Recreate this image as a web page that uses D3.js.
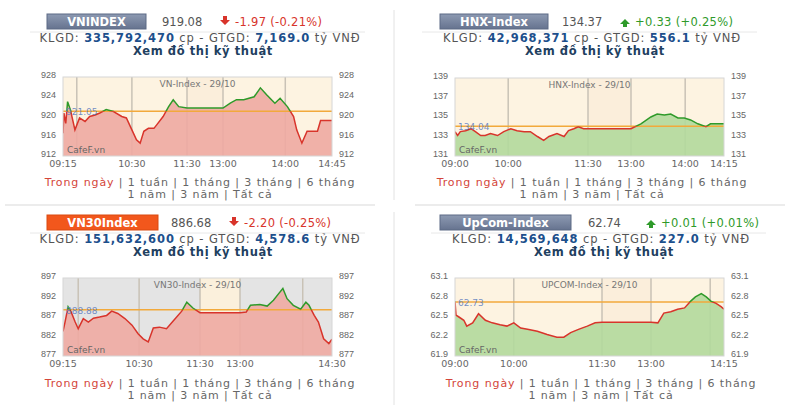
<!DOCTYPE html>
<html><head><meta charset="utf-8">
<script src="https://cdn.jsdelivr.net/npm/d3@7"></script>
<style>body{margin:0;background:#fff}svg{font-family:"DejaVu Sans",Verdana,sans-serif}</style>
</head><body>
<svg id="c" width="787" height="409"></svg>
<script>
// intraday series, [time, value]
const vnData = [["9:15",916.6],["9:16",920.7],["9:18",918.6],["9:20",923.0],["9:23",921.4],["9:28",917.3],["9:33",919.7],["9:39",919.0],["9:44",920.0],["9:50",920.3],["9:55",920.7],["10:02",921.4],["10:10",921.0],["10:19",920.0],["10:24",919.7],["10:30",917.3],["10:35",915.3],["10:39",914.6],["10:43",917.0],["10:48",917.6],["10:54",917.6],["10:57",918.3],["11:04",920.0],["11:10",922.0],["11:15",923.4],["11:21",922.0],["11:30",921.7],["13:00",921.7],["13:07",922.7],["13:13",923.4],["13:20",923.4],["13:30",924.0],["13:36",925.8],["13:42",924.4],["13:50",922.7],["13:55",923.7],["14:02",922.0],["14:08",920.0],["14:11",917.3],["14:16",914.6],["14:21",917.0],["14:31",917.0],["14:34",919.2],["14:45",919.2]];
const hnxData = [["9:00",133.5],["9:03",133.1],["9:06",133.5],["9:12",133.6],["9:18",133.8],["9:23",133.5],["9:29",133.1],["9:34",133.1],["9:40",133.3],["9:48",133.1],["9:55",133.5],["10:03",133.8],["10:10",133.6],["10:18",133.5],["10:25",133.5],["10:33",133.0],["10:40",132.6],["10:46",133.0],["10:55",133.3],["11:03",133.0],["11:08",133.6],["11:14",133.8],["11:19",134.0],["11:25",133.8],["11:30",133.8],["13:00",133.8],["13:11",134.3],["13:22",135.0],["13:29",135.3],["13:37",135.2],["13:44",135.3],["13:52",134.9],["13:59",134.9],["14:06",134.7],["14:14",134.3],["14:23",134.0],["14:28",134.3],["14:43",134.3]];
const vn30Data = [["9:15",883.3],["9:17",885.7],["9:20",889.6],["9:23",888.3],["9:27",885.7],["9:30",884.0],["9:35",886.6],["9:40",885.7],["9:45",886.7],["9:51",887.0],["9:58",887.4],["10:03",888.5],["10:09",887.9],["10:16",886.6],["10:23",884.9],["10:29",882.7],["10:34",881.4],["10:39",880.6],["10:44",884.2],["10:50",884.4],["10:57",884.0],["11:04",886.1],["11:12",888.5],["11:17",890.8],["11:23",889.3],["11:30",888.1],["13:00",888.1],["13:06",888.3],["13:10",890.0],["13:19",890.2],["13:26",889.8],["13:32",891.3],["13:37",893.0],["13:41",894.3],["13:45",891.7],["13:51",890.0],["13:58",889.0],["14:03",890.8],["14:06",890.0],["14:11",887.4],["14:15",885.7],["14:20",881.4],["14:25",880.2],["14:28",881.3]];
const upcomData = [["9:00",62.74],["9:01",62.53],["9:04",62.50],["9:09",62.45],["9:12",62.36],["9:18",62.41],["9:24",62.55],["9:31",62.45],["9:38",62.41],["9:46",62.38],["9:53",62.36],["10:00",62.41],["10:07",62.33],["10:14",62.31],["10:24",62.28],["10:34",62.23],["10:44",62.19],["10:51",62.19],["10:58",62.26],["11:06",62.31],["11:15",62.36],["11:23",62.41],["11:30",62.42],["13:00",62.42],["13:07",62.41],["13:13",62.56],["13:20",62.58],["13:27",62.62],["13:34",62.64],["13:40",62.74],["13:45",62.81],["13:51",62.86],["13:56",62.81],["14:01",62.74],["14:06",62.71],["14:11",62.66],["14:14",62.62]];

const vnTicks = [912,916,920,924,928];
const hnxTicks = [131,133,135,137,139];
const vn30Ticks = [877,882,887,892,897];
const upcomTicks = [61.9,62.2,62.5,62.8,63.1];

const vnXLabels = ["09:15","10:30","11:30","13:00","14:00","14:45"];
const hnxXLabels = ["09:00","10:00","11:30","13:00","14:00","14:15"];
const vn30XLabels = ["09:15","10:30","11:30","13:00","14:30"];
const upcomXLabels = ["09:00","10:00","11:30","13:00","14:15"];

const vnGrid = ["9:30","10:30","11:30","13:00","14:00"];
const hnxGrid = ["10:00","11:30","13:00","14:00"];
const vn30Grid = ["9:30","10:30","11:30","13:00","14:00"];
const upcomGrid = ["10:00","11:30","13:00","14:00"];

const panels = [
  {name:"VNINDEX", title:"VN-Index - 29/10", data:vnData, ticks:vnTicks, xl:vnXLabels, grid:vnGrid, ref:921.05, refLabel:"921.05",
   price:"919.08", chg:"-1.97 (-0.21%)", up:false, klgd:"335,792,470", gtgd:"7,169.0",
   ox:0, oy:0, btn:[47,99], val:162, cx:200, plot:[63,332,77,156], xr:[63,187,223,332], bg:"#fdf3e1", lunch:"#fbeedb"},
  {name:"HNX-Index", title:"HNX-Index - 29/10", data:hnxData, ticks:hnxTicks, xl:hnxXLabels, grid:hnxGrid, ref:134.04, refLabel:"134.04",
   price:"134.37", chg:"+0.33 (+0.25%)", up:true, klgd:"42,968,371", gtgd:"556.1",
   ox:394, oy:0, btn:[46,108], val:168, cx:198, plot:[61,330,78,156], xr:[61,194,237,330], bg:"#fdf3e1", lunch:"#fbeedb"},
  {name:"VN30Index", title:"VN30-Index - 29/10", data:vn30Data, ticks:vn30Ticks, xl:vn30XLabels, grid:vn30Grid, ref:888.88, refLabel:"888.88",
   price:"886.68", chg:"-2.20 (-0.25%)", up:false, klgd:"151,632,600", gtgd:"4,578.6",
   ox:0, oy:201, btn:[47,111], val:171, cx:200, plot:[63,332,77,155], xr:[63,200,240,332], bg:"#e4e4e4", lunch:"#fbf0dc"},
  {name:"UpCom-Index", title:"UPCOM-Index - 29/10", data:upcomData, ticks:upcomTicks, xl:upcomXLabels, grid:upcomGrid, ref:62.73, refLabel:"62.73",
   price:"62.74", chg:"+0.01 (+0.01%)", up:true, klgd:"14,569,648", gtgd:"227.0",
   ox:394, oy:201, btn:[46,131], val:194, cx:207, plot:[61,330,77,155], xr:[61,208,257,330], bg:"#fdf3e1", lunch:"#fbeedb"}
];

const mins = s => { const [h,m] = s.split(":").map(Number); return h*60+m; };
const svg = d3.select("#c");
const defs = svg.append("defs");
const grad = defs.append("linearGradient").attr("id","btnGray").attr("x1",0).attr("y1",0).attr("x2",0).attr("y2",1);
grad.append("stop").attr("offset","0").attr("stop-color","#8d9ab2");
grad.append("stop").attr("offset","1").attr("stop-color","#66738f");

// separators
svg.append("line").attr("x1",394).attr("x2",394).attr("y1",10).attr("y2",200).attr("stroke","#e2e2e2");
svg.append("line").attr("x1",394).attr("x2",394).attr("y1",212).attr("y2",405).attr("stroke","#e2e2e2");
svg.append("line").attr("x1",5).attr("x2",375).attr("y1",205).attr("y2",205).attr("stroke","#ececec").attr("stroke-width",2);
svg.append("line").attr("x1",415).attr("x2",785).attr("y1",205).attr("y2",205).attr("stroke","#ececec").attr("stroke-width",2);

panels.forEach((p, pi) => {
  const g = svg.append("g").attr("transform", `translate(${p.ox},${p.oy})`);
  const red = "#d8342b", green = "#2f9a2a";

  // header
  g.append("rect").attr("x",p.btn[0]).attr("y",14).attr("width",p.btn[1]).attr("height",15)
    .attr("fill", pi === 2 ? "#f2571c" : "url(#btnGray)").attr("stroke", pi === 2 ? "#d94a10" : "#5d6a85");
  g.append("text").attr("x",p.btn[0]+p.btn[1]/2).attr("y",25.5).attr("text-anchor","middle")
    .attr("fill","#fff").attr("font-weight","bold").attr("font-size",11.5).text(p.name);
  g.append("text").attr("x",p.val).attr("y",26).attr("font-size",11.5).attr("fill","#555").text(p.price);
  const ax = p.val + 58;
  g.append("path").attr("d", p.up ? `M${ax},24 l5,-5 l5,5 h-3 v3 h-4 v-3z` : `M${ax},20 h10 l-5,5z M${ax+3},16 h4 v4 h-4z`)
    .attr("fill", p.up ? green : red);
  g.append("text").attr("x",ax+15).attr("y",26).attr("font-size",11.5).attr("letter-spacing",0.3).attr("fill", p.up ? green : red).text(p.chg);
  g.append("line").attr("x1",p.cx-170).attr("x2",p.cx+165).attr("y1",32).attr("y2",32).attr("stroke","#e8e8e8");

  const kl = g.append("text").attr("x",p.cx).attr("y",42).attr("text-anchor","middle").attr("font-size",11.5)
    .attr("letter-spacing",0.9).attr("fill","#555");
  kl.append("tspan").text("KLGD: ");
  kl.append("tspan").attr("fill","#1c4f8c").attr("font-weight","bold").text(p.klgd);
  kl.append("tspan").text(" cp - GTGD: ");
  kl.append("tspan").attr("fill","#1c4f8c").attr("font-weight","bold").text(p.gtgd);
  kl.append("tspan").text(" tỷ VNĐ");
  g.append("text").attr("x",p.cx+3).attr("y",55).attr("text-anchor","middle").attr("font-size",11.5).attr("letter-spacing",0.6)
    .attr("font-weight","bold").attr("fill","#21405f").text("Xem đồ thị kỹ thuật");

  // chart
  const [L,R,T,B] = p.plot;
  const t0 = mins(p.data[0][0]), t1 = mins(p.data[p.data.length-1][0]);
  const x = d3.scaleLinear().domain([t0, mins("11:30"), mins("13:00"), t1]).range(p.xr);
  const y = d3.scaleLinear().domain([p.ticks[0], p.ticks[p.ticks.length-1]]).range([B,T]);

  g.append("rect").attr("x",L).attr("y",T).attr("width",R-L).attr("height",B-T).attr("fill",p.bg);
  g.append("rect").attr("x",x(mins("11:30"))).attr("y",T).attr("width",x(mins("13:00"))-x(mins("11:30"))).attr("height",B-T).attr("fill",p.lunch);
  g.selectAll(".vg").data(p.grid).join("line")
    .attr("x1",d=>x(mins(d))).attr("x2",d=>x(mins(d))).attr("y1",T).attr("y2",B)
    .attr("stroke","#c9c2b6").attr("stroke-width",1.5);

  const pts = p.data.map(d => [mins(d[0]), d[1]]);
  const area = d3.area().x(d=>x(d[0])).y0(B).y1(d=>y(d[1]));
  g.append("path").datum(pts).attr("d",area)
    .attr("fill", p.up ? "#b3d99c" : "#eeaaa2").attr("fill-opacity", 0.9);

  g.append("line").attr("x1",L).attr("x2",R).attr("y1",y(p.ref)).attr("y2",y(p.ref)).attr("stroke","#f2a93b").attr("stroke-width",1.5);

  // line: green above reference, red below (clip rects in panel-local coords)
  const cidA = "ca"+pi, cidB = "cb"+pi;
  defs.append("clipPath").attr("id",cidA).append("rect").attr("x",L).attr("y",T-10).attr("width",R-L).attr("height",y(p.ref)-T+10);
  defs.append("clipPath").attr("id",cidB).append("rect").attr("x",L).attr("y",y(p.ref)).attr("width",R-L).attr("height",B-y(p.ref)+10);
  const line = d3.line().x(d=>x(d[0])).y(d=>y(d[1]));
  g.append("path").datum(pts).attr("clip-path",`url(#${cidA})`)
    .attr("d",line).attr("fill","none").attr("stroke",green).attr("stroke-width",1.5);
  g.append("path").datum(pts).attr("clip-path",`url(#${cidB})`)
    .attr("d",line).attr("fill","none").attr("stroke",red).attr("stroke-width",1.5);

  g.append("rect").attr("x",L).attr("y",T).attr("width",R-L).attr("height",B-T).attr("fill","none").attr("stroke","#d6d6d6");

  g.append("text").attr("x",L+3).attr("y",y(p.ref)+4).attr("font-size",9).attr("fill","#5a7bbf").attr("fill-opacity",0.85).text(p.refLabel);
  g.append("text").attr("x",(L+R)/2).attr("y",T+10).attr("text-anchor","middle").attr("font-size",9).attr("fill","#777").text(p.title);
  g.append("text").attr("x",L+4).attr("y",B-3).attr("font-size",9).attr("fill","#666").text("CafeF.vn");

  const fmt = d3.format(p.ticks[0] < 100 ? ".1f" : "d");
  const yl = g.append("g").attr("transform",`translate(${L-4},0)`).call(d3.axisLeft(y).tickValues(p.ticks).tickSize(0).tickFormat(fmt));
  const yr = g.append("g").attr("transform",`translate(${R+4},0)`).call(d3.axisRight(y).tickValues(p.ticks).tickSize(0).tickFormat(fmt));
  [yl,yr].forEach(a => { a.select(".domain").remove(); a.selectAll("text").attr("font-size",9).attr("fill","#666").attr("font-family","inherit").attr("dy","0.1em"); });

  const xs = p.xl.map((s,i) => i === p.xl.length-1 ? t1 : mins(s));
  g.selectAll(".xl").data(p.xl).join("text")
    .attr("x",(d,i)=>x(xs[i])).attr("y",B+11).attr("text-anchor","middle")
    .attr("font-size",9.5).attr("fill","#666").text(d=>d);

  // footer
  const f = g.append("text").attr("x",p.cx).attr("y",186).attr("text-anchor","middle").attr("font-size",11).attr("letter-spacing",0.9).attr("fill","#666");
  f.append("tspan").attr("fill","#d4453a").text("Trong ngày");
  f.append("tspan").text(" | 1 tuần | 1 tháng | 3 tháng | 6 tháng");
  g.append("text").attr("x",p.cx).attr("y",198).attr("text-anchor","middle").attr("font-size",11).attr("letter-spacing",0.9).attr("fill","#666").text("1 năm | 3 năm | Tất cả");
});
</script>
</body></html>
